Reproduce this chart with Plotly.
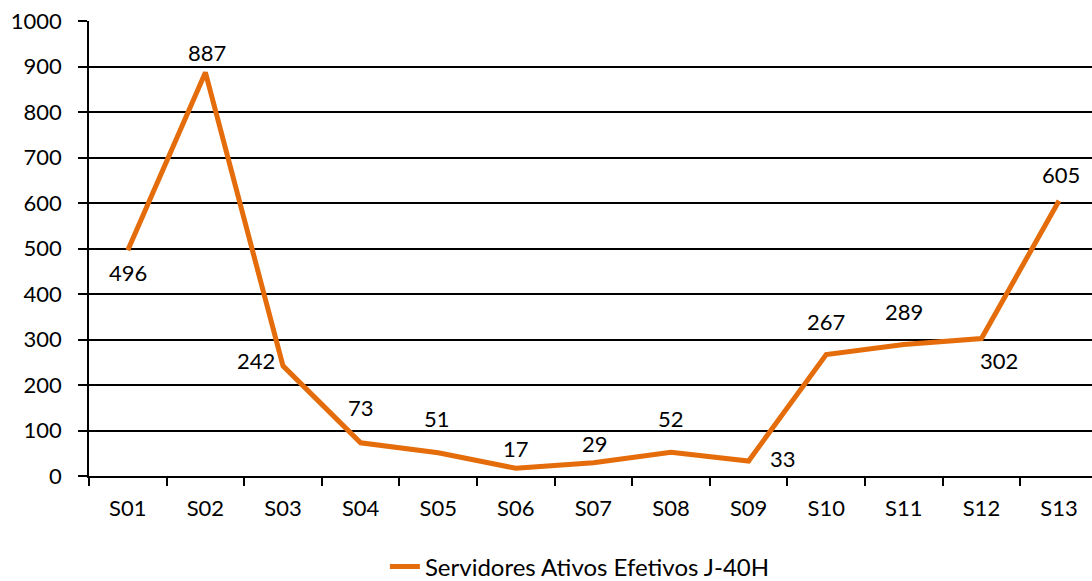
import plotly.graph_objects as go

# Monthly series of active staff (J-40H)
categories = ["S01", "S02", "S03", "S04", "S05", "S06", "S07",
              "S08", "S09", "S10", "S11", "S12", "S13"]
values = [496, 887, 242, 73, 51, 17, 29, 52, 33, 267, 289, 302, 605]
series_name = "Servidores Ativos Efetivos J-40H"

y_ticks = list(range(0, 1001, 100))

# Pixel offsets (dx, dy; dy downward) for each value label
label_offsets = [(0, 22), (2, -20), (-27, -5), (0, -35), (-1, -34), (0, -20),
                 (2, -19), (0, -34), (34, -2), (0, -33), (0, -33), (18, 22),
                 (2, -26)]

LINE_COLOR = "#E46C0A"
FONT = "Lato"
FS = 22

fig = go.Figure()
fig.add_trace(go.Scatter(
    x=categories, y=values, mode="lines", name=series_name,
    line=dict(color=LINE_COLOR, width=5),
    showlegend=True, hoverinfo="x+y",
))

for cat, val, (dx, dy) in zip(categories, values, label_offsets):
    fig.add_annotation(
        x=cat, y=val, text=str(val), showarrow=False,
        xanchor="center", yanchor="middle",
        xshift=dx, yshift=-dy,
        font=dict(family=FONT, size=FS, color="black"),
    )

fig.update_layout(
    width=1092, height=581,
    margin=dict(l=89, r=0, t=21, b=105, autoexpand=False),
    paper_bgcolor="white", plot_bgcolor="white",
    font=dict(family=FONT, size=FS, color="black"),
    showlegend=True,
    legend=dict(
        orientation="h", x=0.295, xanchor="left", y=-0.2, yanchor="middle",
        font=dict(family=FONT, size=24, color="black"),
        bgcolor="rgba(0,0,0,0)",
    ),
)

fig.update_xaxes(
    type="category", categoryorder="array", categoryarray=categories,
    range=[-0.5, 12.425],
    tickson="boundaries", ticks="outside", ticklen=8, tickwidth=1.5,
    tickcolor="black", showgrid=False, showline=True, linecolor="black",
    linewidth=1.5, ticklabelstandoff=12, zeroline=False,
    tickfont=dict(family=FONT, size=FS, color="black"),
)
fig.update_yaxes(
    range=[0, 1000], tickvals=y_ticks, ticks="outside", ticklen=9,
    tickwidth=1.5, tickcolor="black", showgrid=True, gridcolor="black",
    gridwidth=1.5, showline=True, linecolor="black", linewidth=1.5,
    zeroline=False, ticklabelstandoff=12,
    tickfont=dict(family=FONT, size=FS, color="black"),
)

fig.write_html("out.html")
